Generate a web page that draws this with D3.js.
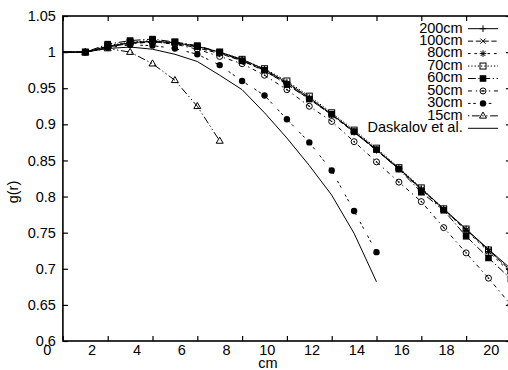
<!DOCTYPE html>
<html>
<head>
<meta charset="utf-8">
<script src="https://cdn.jsdelivr.net/npm/d3@7"></script>
<style>
  html, body { margin: 0; padding: 0; background: #fff; }
  svg { display: block; }
  text { font-family: "Liberation Sans", Arial, Helvetica, sans-serif; fill: #000; }
</style>
</head>
<body>
<svg id="chart" width="508" height="370"></svg>
<script>
// ---------------- data ----------------
const xValues = [0, 1, 2, 3, 4, 5, 6, 7, 8, 9, 10, 11, 12, 13, 14, 15, 16, 17, 18, 19, 20];
const xTicks = [0, 2, 4, 6, 8, 10, 12, 14, 16, 18, 20];
const yTicks = [0.6, 0.65, 0.7, 0.75, 0.8, 0.85, 0.9, 0.95, 1, 1.05];

const g200 = [1.0, 1.0, 1.008, 1.013, 1.015, 1.013, 1.008, 1.000, 0.990, 0.976, 0.958, 0.937, 0.914, 0.890, 0.865, 0.839, 0.811, 0.783, 0.755, 0.727, 0.700];
const g100 = [1.0, 1.0, 1.007, 1.012, 1.014, 1.012, 1.006, 0.998, 0.988, 0.974, 0.956, 0.935, 0.913, 0.889, 0.864, 0.838, 0.810, 0.782, 0.754, 0.726, 0.697];
const g80  = [1.0, 1.0, 1.008, 1.013, 1.015, 1.013, 1.007, 0.999, 0.989, 0.975, 0.957, 0.936, 0.913, 0.889, 0.864, 0.838, 0.810, 0.782, 0.753, 0.724, 0.694];
const g70  = [1.0, 1.0, 1.009, 1.014, 1.016, 1.014, 1.008, 1.000, 0.990, 0.977, 0.960, 0.939, 0.916, 0.892, 0.867, 0.840, 0.812, 0.783, 0.755, 0.726, 0.697];
const g60  = [1.0, 1.0, 1.011, 1.016, 1.018, 1.014, 1.009, 1.000, 0.988, 0.975, 0.955, 0.935, 0.914, 0.890, 0.865, 0.838, 0.806, 0.781, 0.745, 0.715, 0.686];
const g50  = [1.0, 1.0, 1.007, 1.012, 1.014, 1.011, 1.004, 0.994, 0.984, 0.968, 0.948, 0.925, 0.904, 0.876, 0.848, 0.820, 0.793, 0.757, 0.722, 0.687, 0.650];
const g30  = [1.0, 1.0, 1.006, 1.010, 1.009, 1.005, 0.997, 0.982, 0.960, 0.940, 0.907, 0.875, 0.836, 0.780, 0.723];
const g15  = [1.0, 1.0, 1.005, 1.000, 0.984, 0.961, 0.925, 0.877];
const gDaskalov = [1.0, 1.0, 1.005, 1.007, 1.004, 0.997, 0.987, 0.968, 0.948, 0.916, 0.881, 0.843, 0.802, 0.749, 0.682];

const seriesNames = ["200cm", "100cm", "80cm", "70cm", "60cm", "50cm", "30cm", "15cm", "Daskalov et al."];
const seriesValues = [g200, g100, g80, g70, g60, g50, g30, g15, gDaskalov];
const seriesMarkers = ["plus", "cross", "star", "box", "boxF", "circle", "circleF", "triangle", "none"];
const seriesDash = [[], [4, 2], [2, 3], [1, 1.5], [6, 2, 1, 2], [3, 3, 1, 3], [2, 2, 2, 6], [1, 2, 6, 2, 1, 2], []];

// ---------------- layout ----------------
const svg = d3.select("#chart");
const plot = { left: 62.9, right: 510.9, top: 16, bottom: 341 };
const x = d3.scaleLinear().domain([0, 20]).range([plot.left, plot.right]);
const y = d3.scaleLinear().domain([0.6, 1.05]).range([plot.bottom, plot.top]);
const FS = 14.5;
const DL = 1.3;

// axes
const gx = svg.append("g").attr("transform", `translate(0,${plot.bottom})`)
  .call(d3.axisBottom(x).tickValues(xTicks).tickSize(-5).tickSizeOuter(0).tickFormat(d => String(d)));
gx.select(".domain").remove();
gx.selectAll(".tick line").attr("stroke", "#000").attr("stroke-width", 1.2);
gx.selectAll(".tick text").attr("x", -12).attr("y", 9).attr("dy", "0.35em")
  .attr("text-anchor", "end").style("font-size", FS + "px").style("font-family", "Liberation Sans, Arial, sans-serif");

const gxt = svg.append("g").attr("transform", `translate(0,${plot.top})`)
  .call(d3.axisTop(x).tickValues(xTicks).tickSize(-5).tickSizeOuter(0).tickFormat(""));
gxt.select(".domain").remove();
gxt.selectAll(".tick line").attr("stroke", "#000").attr("stroke-width", 1.2);

const gy = svg.append("g").attr("transform", `translate(${plot.left},0)`)
  .call(d3.axisLeft(y).tickValues(yTicks).tickSize(-5).tickSizeOuter(0).tickPadding(7).tickFormat(d => String(d)));
gy.select(".domain").remove();
gy.selectAll(".tick line").attr("stroke", "#000").attr("stroke-width", 1.2);
gy.selectAll(".tick text").style("font-size", FS + "px").style("font-family", "Liberation Sans, Arial, sans-serif");

const gyr = svg.append("g").attr("transform", `translate(${plot.right},0)`)
  .call(d3.axisRight(y).tickValues(yTicks).tickSize(-5).tickSizeOuter(0).tickFormat(""));
gyr.select(".domain").remove();
gyr.selectAll(".tick line").attr("stroke", "#000").attr("stroke-width", 1.2);

// border
svg.append("rect")
  .attr("x", plot.left).attr("y", plot.top)
  .attr("width", plot.right - plot.left).attr("height", plot.bottom - plot.top)
  .attr("fill", "none").attr("stroke", "#000").attr("stroke-width", 1.6);

// axis titles
svg.append("text").attr("x", 268).attr("y", 368).attr("text-anchor", "middle")
  .style("font-size", FS + "px").text("cm");
svg.append("text").attr("transform", "translate(14,192) rotate(-90)").attr("text-anchor", "middle")
  .attr("dominant-baseline", "middle").style("font-size", FS + "px").text("g(r)");

// marker drawing
function marker(g, type) {
  const s = 3.3;
  switch (type) {
    case "plus":
      g.append("path").attr("d", `M${-s},0H${s}M0,${-s}V${s}`).attr("stroke", "#000").attr("stroke-width", 1).attr("fill", "none"); break;
    case "cross":
      g.append("path").attr("d", `M${-2.6},${-2.6}L2.6,2.6M-2.6,2.6L2.6,-2.6`).attr("stroke", "#000").attr("stroke-width", 1).attr("fill", "none"); break;
    case "star":
      g.append("path").attr("d", `M${-s},0H${s}M0,${-s}V${s}M-2.4,-2.4L2.4,2.4M-2.4,2.4L2.4,-2.4`).attr("stroke", "#000").attr("stroke-width", 1).attr("fill", "none"); break;
    case "box":
      g.append("rect").attr("x", -3).attr("y", -3).attr("width", 6).attr("height", 6).attr("fill", "none").attr("stroke", "#000").attr("stroke-width", 1); break;
    case "boxF":
      g.append("rect").attr("x", -3.3).attr("y", -3.3).attr("width", 6.6).attr("height", 6.6).attr("fill", "#000"); break;
    case "circle":
      g.append("circle").attr("r", 3).attr("fill", "none").attr("stroke", "#000").attr("stroke-width", 1);
      g.append("circle").attr("r", 0.8).attr("fill", "#000"); break;
    case "circleF":
      g.append("circle").attr("r", 3.2).attr("fill", "#000"); break;
    case "triangle":
      g.append("path").attr("d", "M0,-3.8L3.5,2.3L-3.5,2.3Z").attr("fill", "none").attr("stroke", "#000").attr("stroke-width", 1); break;
  }
}

// series
const line = d3.line().x(d => x(d.x)).y(d => y(d.y));
seriesValues.forEach((vals, i) => {
  const data = vals.map((v, k) => ({ x: xValues[k], y: v }));
  svg.append("path").datum(data)
    .attr("d", line).attr("fill", "none").attr("stroke", "#000").attr("stroke-width", 1)
    .attr("stroke-dasharray", seriesDash[i].map(v => v * DL).join(","));
  if (seriesMarkers[i] !== "none") {
    data.filter(d => d.x > 0).forEach(d => {
      const g = svg.append("g").attr("transform", `translate(${x(d.x)},${y(d.y)})`);
      marker(g, seriesMarkers[i]);
    });
  }
});

// legend
const legend = { textRight: 462.7, lineX1: 468, lineX2: 498, top: 28.7, step: 12.45 };
seriesNames.forEach((name, i) => {
  const ly = legend.top + legend.step * i;
  svg.append("text").attr("x", legend.textRight).attr("y", ly).attr("text-anchor", "end")
    .attr("dominant-baseline", "middle").style("font-size", FS + "px").text(name);
  svg.append("line").attr("x1", legend.lineX1).attr("x2", legend.lineX2).attr("y1", ly).attr("y2", ly)
    .attr("stroke", "#000").attr("stroke-width", 1)
    .attr("stroke-dasharray", seriesDash[i].map(v => v * DL).join(","));
  if (seriesMarkers[i] !== "none") {
    const g = svg.append("g").attr("transform", `translate(${(legend.lineX1 + legend.lineX2) / 2},${ly})`);
    marker(g, seriesMarkers[i]);
  }
});
</script>
</body>
</html>
